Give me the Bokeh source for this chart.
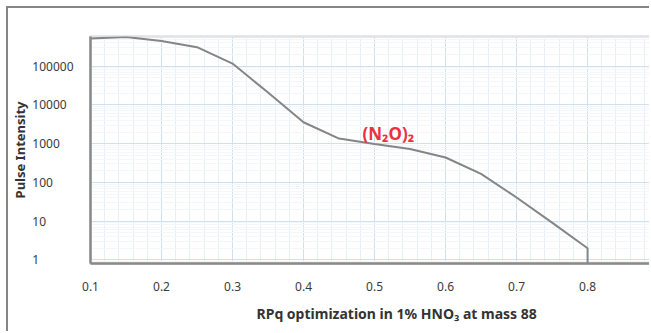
from bokeh.plotting import figure
from bokeh.models import Range1d, FixedTicker, Label
from bokeh.embed import file_html
from bokeh.resources import INLINE

# ---- data ----
rpq = [0.10, 0.15, 0.20, 0.25, 0.30, 0.35, 0.40, 0.45, 0.50, 0.55,
       0.60, 0.65, 0.70, 0.75, 0.80, 0.80]
intensity = [519000, 568000, 448000, 310000, 117000, 20900, 3580, 1360,
             980, 730, 440, 166, 41, 9.2, 2.0, 0.01]

x_ticks = [0.1, 0.2, 0.3, 0.4, 0.5, 0.6, 0.7, 0.8, 0.9]
x_minor = [round(0.1 + 0.02 * i, 2) for i in range(45)]
y_ticks = [1, 10, 100, 1000, 10000, 100000]
y_tick_labels = ["1", "10", "100", "1000", "10000", "100000"]
y_minor = [m * 10 ** k for k in range(-1, 6) for m in range(2, 10)]

annotation_text = "(N\u2082O)\u2082"
x_title = "RPq optimization in 1% HNO\u2083 at mass 88"
y_title = "Pulse Intensity"

FONT = "Noto Sans"
TICK_COLOR = "#3a3a3a"
FIG_SPACE = "\u2007"

p = figure(width=643, height=325, output_backend="svg", toolbar_location=None,
           x_range=Range1d(0.1, 0.89), y_range=Range1d(0.81, 585000),
           y_axis_type="log", title=x_title, title_location="below",
           min_border_left=82, min_border_right=0, min_border_top=28,
           min_border_bottom=70)
p.styles = {"margin-left": "6px", "margin-top": "6px",
            "border-left": "2px solid #858585", "border-top": "2px solid #858585"}

p.background_fill_color = "white"
p.border_fill_color = "white"
p.outline_line_color = "#cfcfcf"
p.outline_line_width = 2

# x axis title (as a title below the axis, offset like the reference)
p.title.align = "left"
p.title.offset = 166
p.title.text_font = FONT
p.title.text_font_size = "14px"
p.title.text_font_style = "bold"
p.title.text_color = "#333333"
p.title.standoff = 17

# x axis
p.xaxis.ticker = FixedTicker(ticks=x_ticks, minor_ticks=x_minor)
p.xaxis.axis_line_color = "#8a8a8a"
p.xaxis.axis_line_width = 2.5
p.xaxis.major_tick_line_color = None
p.xaxis.minor_tick_line_color = None
p.xaxis.major_label_standoff = 12
p.xaxis.major_label_text_font = FONT
p.xaxis.major_label_text_font_size = "12px"
p.xaxis.major_label_text_color = TICK_COLOR

# y axis: labels padded with figure spaces so they read left-aligned
width_max = max(len(t) for t in y_tick_labels)
p.yaxis.ticker = FixedTicker(ticks=y_ticks, minor_ticks=y_minor)
p.yaxis.major_label_overrides = {
    t: lab + FIG_SPACE * (width_max - len(lab)) for t, lab in zip(y_ticks, y_tick_labels)
}
p.yaxis.axis_line_color = "#8a8a8a"
p.yaxis.axis_line_width = 2.5
p.yaxis.major_tick_line_color = None
p.yaxis.minor_tick_line_color = None
p.yaxis.major_label_standoff = 11
p.yaxis.major_label_text_font = FONT
p.yaxis.major_label_text_font_size = "12px"
p.yaxis.major_label_text_color = TICK_COLOR
p.yaxis.axis_label = y_title
p.yaxis.axis_label_standoff = 0
p.yaxis.axis_label_text_font = FONT
p.yaxis.axis_label_text_font_size = "13px"
p.yaxis.axis_label_text_font_style = "bold"
p.yaxis.axis_label_text_color = "#333333"

# grids
p.xgrid.grid_line_color = "#cfe0f1"
p.xgrid.minor_grid_line_color = "#e8eff7"
p.ygrid.grid_line_color = "#cfe0f1"
p.ygrid.minor_grid_line_color = "#f4f7fa"

# curve
p.line(rpq, intensity, line_color="#858585", line_width=2)

# annotation
p.add_layout(Label(x=0.483, y=1830, text=annotation_text,
                   text_color="#e8333a", text_font=FONT,
                   text_font_size="17px", text_font_style="bold",
                   text_align="left", text_baseline="alphabetic"))

open("out.html", "w").write(file_html(p, INLINE))
